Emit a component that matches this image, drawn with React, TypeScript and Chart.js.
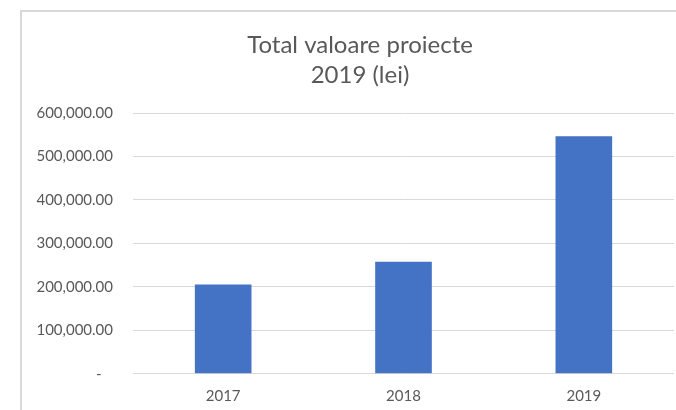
import React, { useEffect, useRef } from "react";
import { Chart, registerables } from "chart.js";

Chart.register(...registerables);

const categories = ["2017", "2018", "2019"];
const values = [205500, 257500, 546500];
const titleLines = ["Total valoare proiecte", "2019 (lei)"];
const yMin = 0;
const yMax = 600000;
const yStep = 100000;

const frameAndTitle = {
  id: "frameAndTitle",
  beforeDraw(chart: any) {
    const ctx = chart.ctx;
    ctx.save();
    ctx.fillStyle = "#ffffff";
    ctx.fillRect(0, 0, chart.width, chart.height);
    ctx.strokeStyle = "#d9d9d9";
    ctx.lineWidth = 2;
    ctx.beginPath();
    ctx.moveTo(21, 10);
    ctx.lineTo(21, chart.height);
    ctx.moveTo(20, 11);
    ctx.lineTo(chart.width, 11);
    ctx.stroke();
    ctx.restore();
  },
  afterDraw(chart: any) {
    const ctx = chart.ctx;
    ctx.save();
    ctx.fillStyle = "#595959";
    ctx.font = "24px Lato";
    ctx.textAlign = "center";
    ctx.textBaseline = "middle";
    titleLines.forEach((line, i) => {
      ctx.fillText(line, 360, 45 + i * 30);
    });
    ctx.restore();
  },
};

function fmt(v: number) {
  if (v === 0) return "-   ";
  return v.toLocaleString("en-US", { minimumFractionDigits: 2, maximumFractionDigits: 2 });
}

export default function App() {
  const ref = useRef<HTMLCanvasElement>(null);
  useEffect(() => {
    if (!ref.current) return;
    const chart = new Chart(ref.current, {
      type: "bar",
      data: {
        labels: categories,
        datasets: [
          {
            data: values,
            backgroundColor: "#4472C4",
            categoryPercentage: 1,
            barPercentage: 0.314,
          },
        ],
      },
      options: {
        responsive: false,
        animation: false,
        layout: { padding: { left: 0, right: 2, top: 113, bottom: 0 } },
        plugins: {
          legend: { display: false },
          tooltip: { enabled: false },
          title: { display: false },
        },
        scales: {
          x: {
            afterFit(scale: any) {
              scale.height = 36.3;
            },
            grid: { display: false, drawTicks: false },
            border: { display: false },
            ticks: {
              color: "#595959",
              font: { family: "Lato", size: 15 },
              padding: 13,
            },
          },
          y: {
            min: yMin,
            max: yMax,
            afterFit(scale: any) {
              scale.width = 133;
            },
            grid: { color: "#d9d9d9", lineWidth: 1, drawTicks: false },
            border: { display: false },
            ticks: {
              stepSize: yStep,
              color: "#595959",
              font: { family: "Lato", size: 15 },
              padding: 20,
              callback: (v: any) => fmt(Number(v)),
            },
          },
        },
      },
      plugins: [frameAndTitle],
    });
    return () => chart.destroy();
  }, []);
  return (
    <div style={{ position: "fixed", left: 0, top: 0, width: 676, height: 410, background: "#fff" }}>
      <canvas ref={ref} width={676} height={410} style={{ display: "block" }} />
    </div>
  );
}
